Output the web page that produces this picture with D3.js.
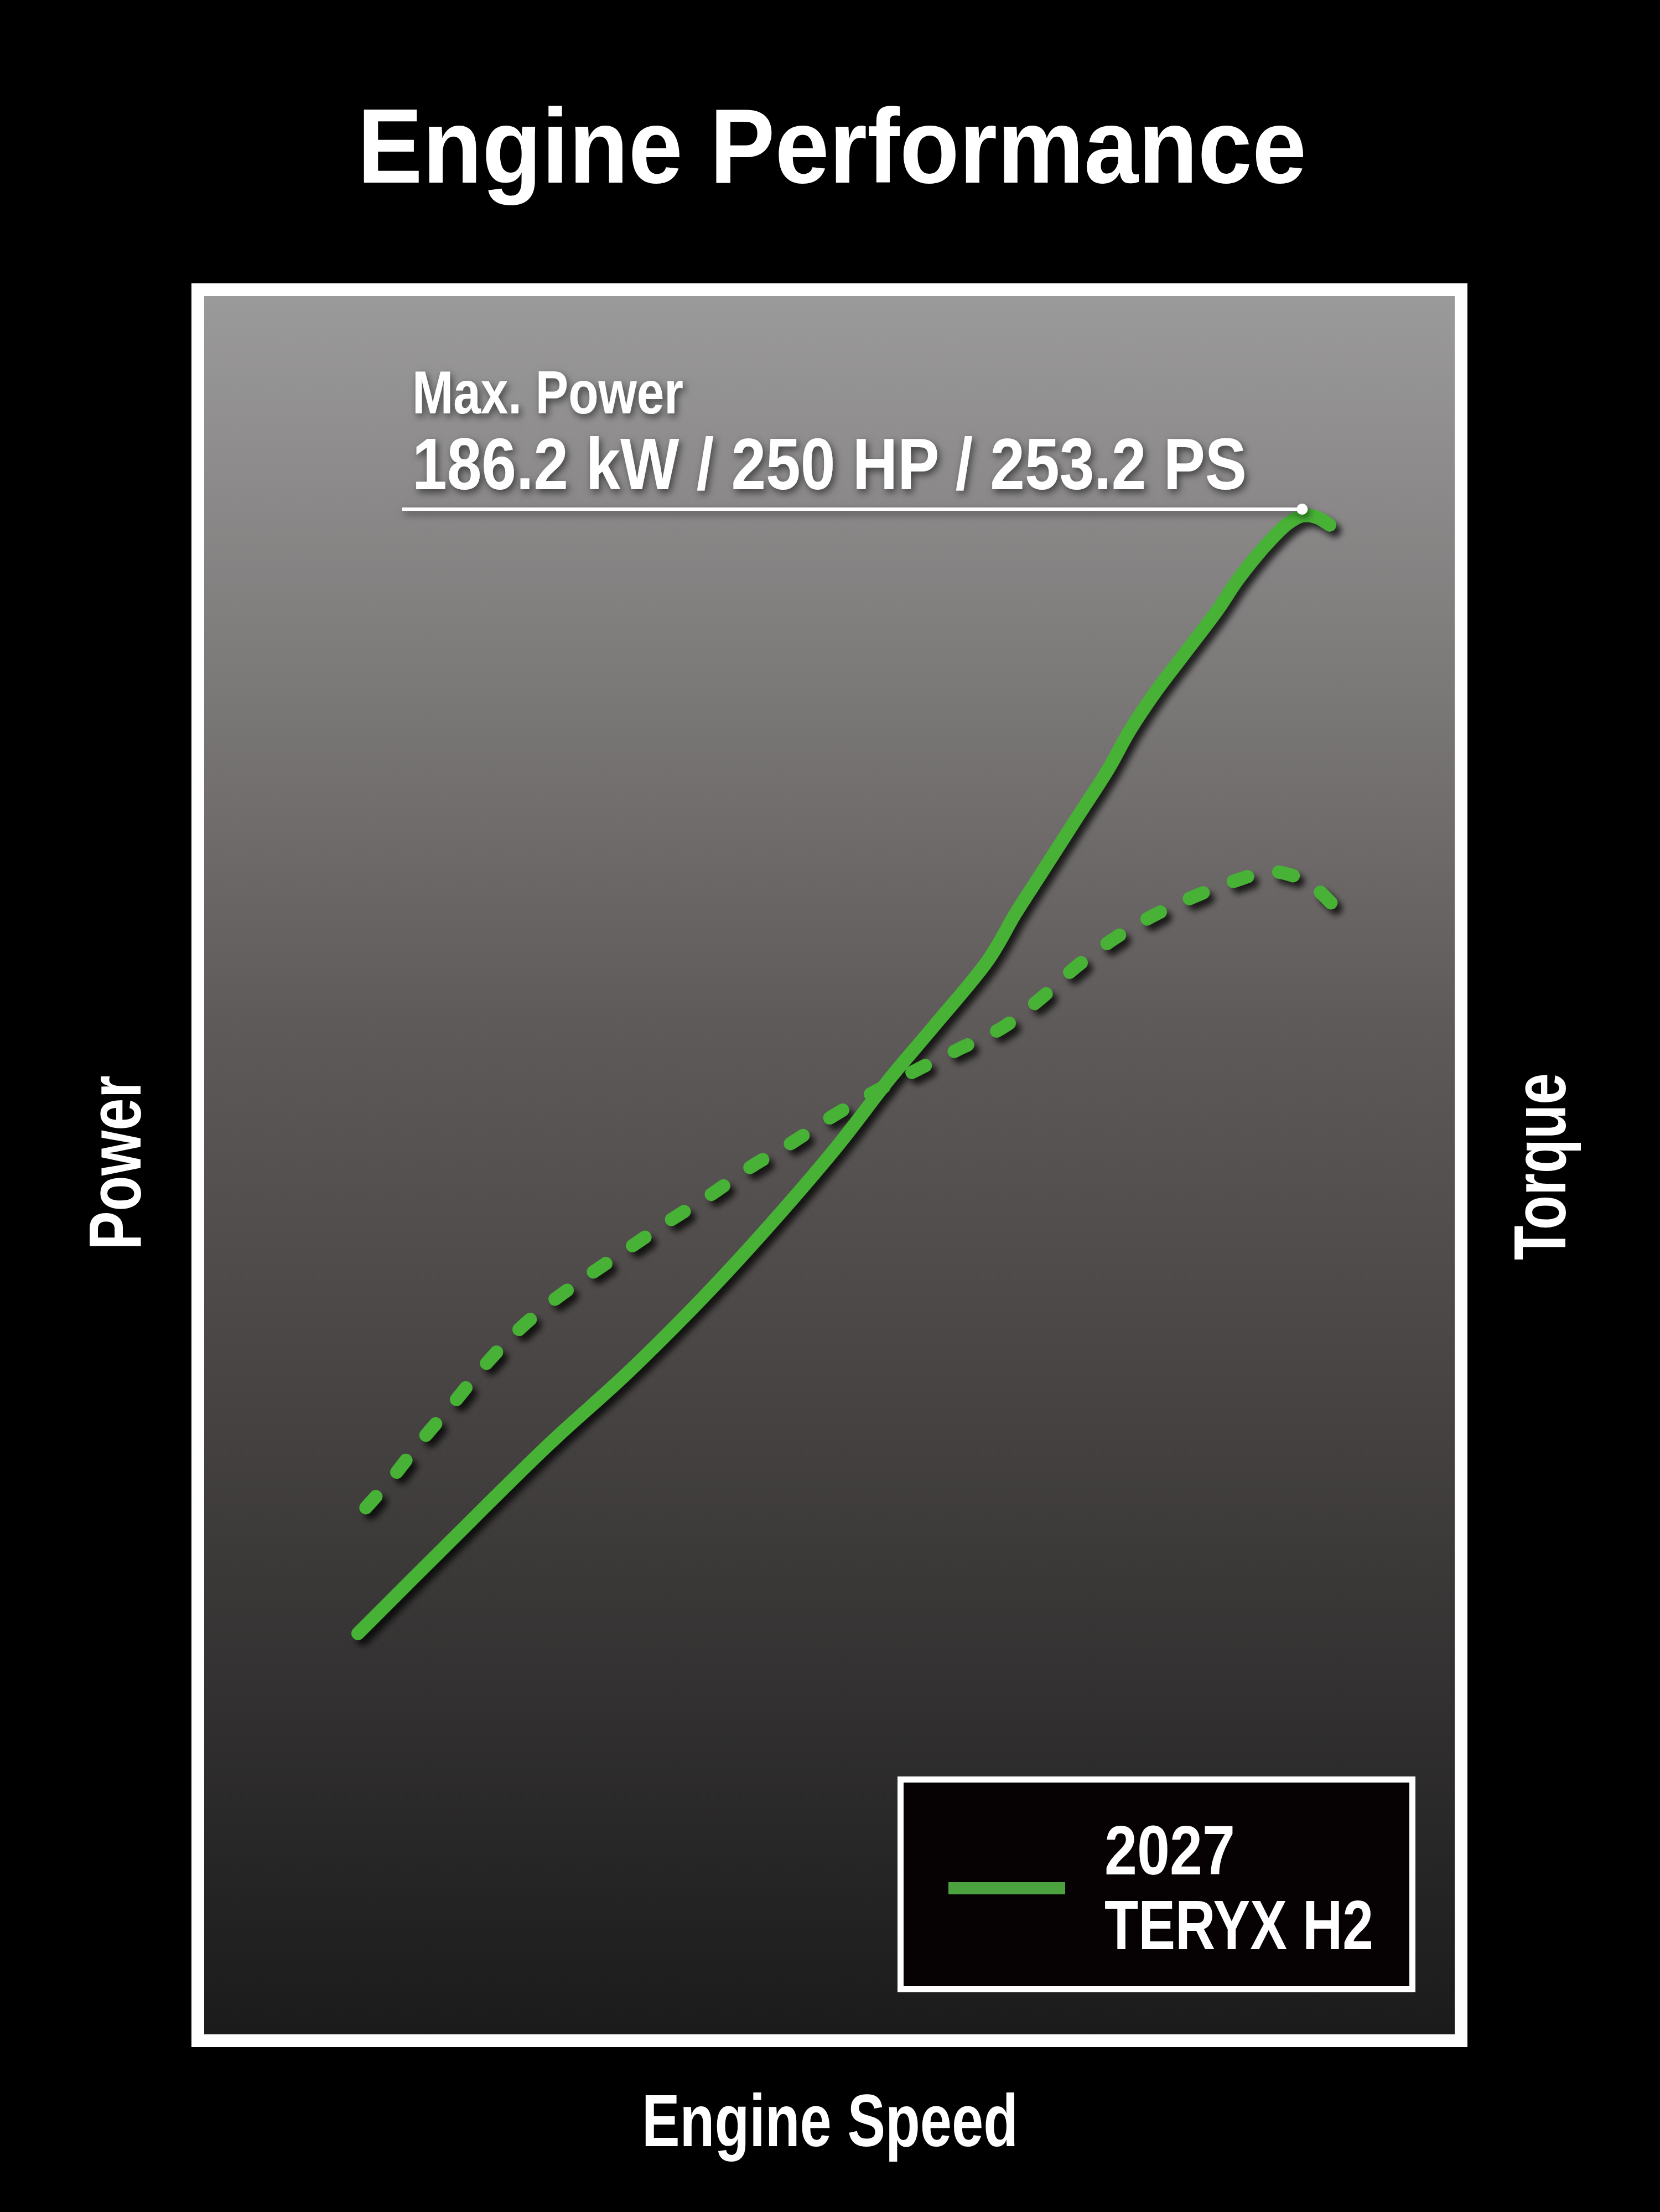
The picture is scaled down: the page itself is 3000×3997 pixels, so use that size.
<!DOCTYPE html>
<html>
<head>
<meta charset="utf-8">
<title>Engine Performance</title>
<script src="https://cdn.jsdelivr.net/npm/d3@7/dist/d3.min.js"></script>
<style>
  html, body { margin: 0; padding: 0; background: #000; }
  svg { display: block; }
</style>
</head>
<body>
<div id="chart"></div>
<script>
// engine speed is given as % of the plotted range (the chart prints no ticks)
const powerSpeed = [12.3, 19.5, 27.6, 33.8, 39.7, 44.3, 50.5, 54.8, 58.4, 62.7, 64.9, 66.9,
  69.7, 72.3, 74.0, 76.0, 78.2, 81.0, 82.7, 85.0, 86.7, 87.8, 88.9, 90.0];
const powerHP = [66.0, 80.8, 97.2, 108.8, 120.9, 131.1, 145.9, 157.3, 166.1, 176.9, 184.6, 191.0,
  200.0, 208.3, 214.6, 220.8, 226.8, 234.4, 239.6, 245.4, 248.8, 250.0, 249.8, 248.5];

// torque has no units on the chart: relative index, 0 - 100
const torqueSpeed = [12.3, 14.9, 17.3, 19.8, 22.2, 24.8, 27.7, 30.8, 34.1, 37.2, 40.5, 43.7,
  47.0, 50.2, 53.3, 55.7, 57.3, 60.4, 63.8, 66.9, 69.7, 72.9, 76.0, 79.3, 83.0, 85.0, 86.9, 88.6, 90.1];
const torqueRel = [29.8, 31.9, 34.1, 36.2, 38.3, 40.3, 42.1, 43.7, 45.3, 46.8, 48.3, 49.9,
  51.3, 52.8, 54.1, 55.0, 55.6, 56.7, 57.9, 59.6, 61.4, 63.1, 64.4, 65.5, 66.5, 66.9, 66.7, 66.1, 65.1];

const title = "Engine Performance";
const maxPowerLabel = "Max. Power";
const maxPowerValue = "186.2 kW / 250 HP / 253.2 PS";
const legendLines = ["2027", "TERYX H2"];
const xLabel = "Engine Speed";
const yLeftLabel = "Power";
const yRightLabel = "Torque";

const W = 3000, H = 3997;
const green = "#46b236";
const narrow = "'Liberation Sans Narrow', 'Liberation Sans', Arial, sans-serif";
const wide = "'Liberation Sans', Arial, Helvetica, sans-serif";

const frame = { x0: 346, y0: 512, x1: 2652, y1: 3699, bw: 23 };
const inner = { x0: frame.x0 + frame.bw, y0: frame.y0 + frame.bw,
                x1: frame.x1 - frame.bw, y1: frame.y1 - frame.bw };

const svg = d3.select("#chart").append("svg")
  .attr("width", W).attr("height", H);

const defs = svg.append("defs");
const grad = defs.append("linearGradient").attr("id", "panel")
  .attr("x1", 0).attr("y1", 0).attr("x2", 0).attr("y2", 1);
[[0, "#9b9a9a"], [0.2, "#7f7c7c"], [0.42, "#5e5a59"], [0.58, "#4d4948"],
 [0.8, "#333131"], [1, "#1b1b1b"]].forEach(([o, c]) =>
  grad.append("stop").attr("offset", o).attr("stop-color", c));

defs.append("filter").attr("id", "shadow")
  .attr("x", "-10%").attr("y", "-10%").attr("width", "130%").attr("height", "130%")
  .append("feDropShadow")
  .attr("dx", 9).attr("dy", 10).attr("stdDeviation", 6)
  .attr("flood-color", "#000").attr("flood-opacity", 0.75);

defs.append("filter").attr("id", "textShadow")
  .attr("x", "-10%").attr("y", "-30%").attr("width", "130%").attr("height", "170%")
  .append("feDropShadow")
  .attr("dx", 4).attr("dy", 6).attr("stdDeviation", 7)
  .attr("flood-color", "#000").attr("flood-opacity", 0.55);

// page + frame
svg.append("rect").attr("width", W).attr("height", H).attr("fill", "#000");
svg.append("rect")
  .attr("x", frame.x0).attr("y", frame.y0)
  .attr("width", frame.x1 - frame.x0).attr("height", frame.y1 - frame.y0)
  .attr("fill", "#fff");
svg.append("rect")
  .attr("x", inner.x0).attr("y", inner.y0)
  .attr("width", inner.x1 - inner.x0).attr("height", inner.y1 - inner.y0)
  .attr("fill", "url(#panel)");

// scales
const x = d3.scaleLinear().domain([0, 100]).range([inner.x0, inner.x1]);
const yPower = d3.scaleLinear().domain([0, 250]).range([inner.y1, 932]);
const yTorque = d3.scaleLinear().domain([0, 100]).range([inner.y1, inner.y0]);

const powerData = powerSpeed.map((s, i) => ({ s, v: powerHP[i] }));
const torqueData = torqueSpeed.map((s, i) => ({ s, v: torqueRel[i] }));

const plot = svg.append("g").attr("filter", "url(#shadow)");

const dash = 27, gap = 58;
const torquePath = plot.append("path")
  .datum(torqueData)
  .attr("d", d3.line().x(d => x(d.s)).y(d => yTorque(d.v)).curve(d3.curveCatmullRom.alpha(0.5)))
  .attr("fill", "none")
  .attr("stroke", green)
  .attr("stroke-width", 24)
  .attr("stroke-linecap", "round")
  .attr("stroke-dasharray", dash + " " + gap);
// line the dash pattern up so the curve finishes on the end of a dash
const len = torquePath.node().getTotalLength();
const period = dash + gap;
torquePath.attr("stroke-dashoffset", (((dash - len) % period) + period) % period);

plot.append("path")
  .datum(powerData)
  .attr("d", d3.line().x(d => x(d.s)).y(d => yPower(d.v)).curve(d3.curveCatmullRom.alpha(0.5)))
  .attr("fill", "none")
  .attr("stroke", green)
  .attr("stroke-width", 24)
  .attr("stroke-linecap", "round")
  .attr("stroke-linejoin", "round");

// max power annotation
const peak = powerData.reduce((a, b) => (b.v > a.v ? b : a));
const peakY = yPower(peak.v) - 12;
const ann = svg.append("g").attr("filter", "url(#textShadow)");
ann.append("line")
  .attr("x1", 727).attr("x2", x(peak.s))
  .attr("y1", peakY).attr("y2", peakY)
  .attr("stroke", "#fff").attr("stroke-width", 6);
ann.append("circle")
  .attr("cx", x(peak.s)).attr("cy", peakY).attr("r", 10)
  .attr("fill", "#fff");
ann.append("text")
  .attr("x", 745).attr("y", 747)
  .attr("font-family", narrow).attr("font-weight", "bold").attr("font-size", 110)
  .attr("textLength", 490).attr("lengthAdjust", "spacingAndGlyphs")
  .attr("fill", "#fff").text(maxPowerLabel);
ann.append("text")
  .attr("x", 745).attr("y", 884)
  .attr("font-family", narrow).attr("font-weight", "bold").attr("font-size", 131)
  .attr("textLength", 1508).attr("lengthAdjust", "spacingAndGlyphs")
  .attr("fill", "#fff").text(maxPowerValue);

// legend
const lg = { x0: 1622, y0: 3210, x1: 2558, y1: 3600, bw: 11 };
svg.append("rect")
  .attr("x", lg.x0 + lg.bw / 2).attr("y", lg.y0 + lg.bw / 2)
  .attr("width", lg.x1 - lg.x0 - lg.bw).attr("height", lg.y1 - lg.y0 - lg.bw)
  .attr("fill", "#060102").attr("stroke", "#fff").attr("stroke-width", lg.bw);
svg.append("line")
  .attr("x1", 1714).attr("x2", 1925).attr("y1", 3412).attr("y2", 3412)
  .attr("stroke", "#4ca23e").attr("stroke-width", 22);
svg.selectAll("text.legend")
  .data(legendLines)
  .join("text")
  .attr("class", "legend")
  .attr("x", 1996)
  .attr("y", (d, i) => 3387 + i * 135)
  .attr("font-family", narrow).attr("font-weight", "bold").attr("font-size", 126)
  .attr("textLength", (d, i) => (i === 0 ? 236 : 486))
  .attr("lengthAdjust", "spacingAndGlyphs")
  .attr("fill", "#fff")
  .text(d => d);

// title and axis labels
svg.append("text")
  .attr("x", 646).attr("y", 330)
  .attr("font-family", wide).attr("font-weight", "bold").attr("font-size", 191)
  .attr("textLength", 1715).attr("lengthAdjust", "spacingAndGlyphs")
  .attr("fill", "#fff").text(title);

svg.append("text")
  .attr("x", 1500).attr("y", 3878)
  .attr("text-anchor", "middle")
  .attr("font-family", narrow).attr("font-weight", "bold").attr("font-size", 134)
  .attr("textLength", 680).attr("lengthAdjust", "spacingAndGlyphs")
  .attr("fill", "#fff").text(xLabel);

svg.append("text")
  .attr("transform", "translate(254,2101) rotate(-90)")
  .attr("text-anchor", "middle")
  .attr("font-family", narrow).attr("font-weight", "bold").attr("font-size", 134)
  .attr("textLength", 315).attr("lengthAdjust", "spacingAndGlyphs")
  .attr("fill", "#fff").text(yLeftLabel);

svg.append("text")
  .attr("transform", "translate(2829,2108) rotate(-90)")
  .attr("text-anchor", "middle")
  .attr("font-family", narrow).attr("font-weight", "bold").attr("font-size", 134)
  .attr("textLength", 338).attr("lengthAdjust", "spacingAndGlyphs")
  .attr("fill", "#fff").text(yRightLabel);
</script>
</body>
</html>
